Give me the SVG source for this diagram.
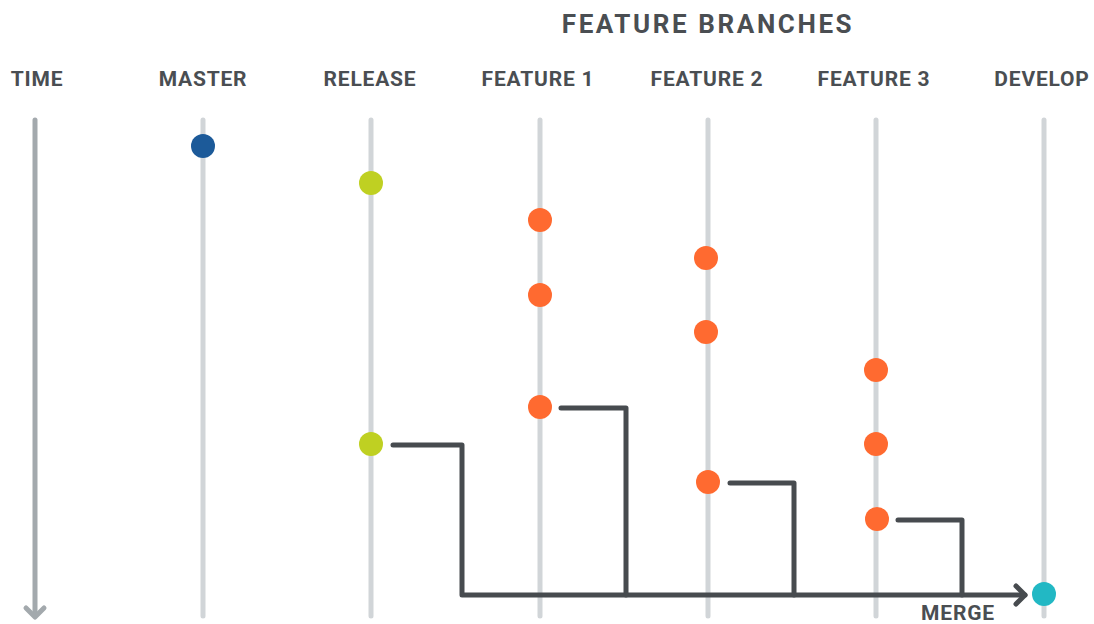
<svg xmlns="http://www.w3.org/2000/svg" width="1094" height="624" viewBox="0 0 1094 624">
<style>
.lbl{font-family:Roboto,"Liberation Sans",sans-serif;font-weight:bold;fill:#4a4e52;text-anchor:middle;letter-spacing:0.8px}
.h{font-size:21px}
.lane{stroke:#d1d5d8;stroke-width:5;stroke-linecap:round}
.flow{fill:none;stroke:#474b4f;stroke-width:5;stroke-linecap:round;stroke-linejoin:round}
.o{fill:#ff6a30}.g{fill:#bfd022}
</style>
<rect width="1094" height="624" fill="#ffffff"/>
<text class="lbl" x="708" y="33" font-size="26" style="letter-spacing:2.6px">FEATURE BRANCHES</text>
<g id="time">
<text class="lbl h" x="37" y="86">TIME</text>
<line x1="35" y1="120" x2="35" y2="615" stroke="#a3a9ad" stroke-width="5" stroke-linecap="round"/>
<polyline points="26,608 35,617 44,608" fill="none" stroke="#a3a9ad" stroke-width="5" stroke-linecap="round" stroke-linejoin="round"/>
</g>
<g id="master">
<text class="lbl h" x="203" y="86">MASTER</text>
<line class="lane" x1="203" y1="120" x2="203" y2="616"/>
<circle cx="203" cy="146" r="12" fill="#1c5a99"/>
</g>
<g id="release">
<text class="lbl h" x="370" y="86">RELEASE</text>
<line class="lane" x1="371" y1="120" x2="371" y2="616"/>
<circle class="g" cx="371" cy="183" r="12"/>
<circle class="g" cx="371" cy="444" r="12"/>
</g>
<g id="feature1">
<text class="lbl h" x="538" y="86">FEATURE 1</text>
<line class="lane" x1="540" y1="120" x2="540" y2="616"/>
<circle class="o" cx="540" cy="220" r="12"/>
<circle class="o" cx="540" cy="295" r="12"/>
<circle class="o" cx="540" cy="407" r="12"/>
</g>
<g id="feature2">
<text class="lbl h" x="707" y="86">FEATURE 2</text>
<line class="lane" x1="708" y1="120" x2="708" y2="616"/>
<circle class="o" cx="706" cy="258" r="12"/>
<circle class="o" cx="706" cy="332" r="12"/>
<circle class="o" cx="708" cy="482" r="12"/>
</g>
<g id="feature3">
<text class="lbl h" x="874" y="86">FEATURE 3</text>
<line class="lane" x1="876" y1="120" x2="876" y2="616"/>
<circle class="o" cx="876" cy="370" r="12"/>
<circle class="o" cx="876" cy="444" r="12"/>
<circle class="o" cx="877" cy="519" r="12"/>
</g>
<g id="develop">
<text class="lbl h" x="1042" y="86">DEVELOP</text>
<line class="lane" x1="1044" y1="120" x2="1044" y2="616"/>
<circle cx="1044" cy="594" r="12" fill="#22b8c4"/>
</g>
<g id="connectors">
<polyline class="flow" points="393,445 462,445 462,595 1025,595"/>
<polyline class="flow" points="561,408 626,408 626,595"/>
<polyline class="flow" points="730,483 794,483 794,595"/>
<polyline class="flow" points="898,520 962,520 962,595"/>
<polyline class="flow" points="1016,586 1025,595 1016,604"/>
<text class="lbl h" x="958" y="620">MERGE</text>
</g>
</svg>
